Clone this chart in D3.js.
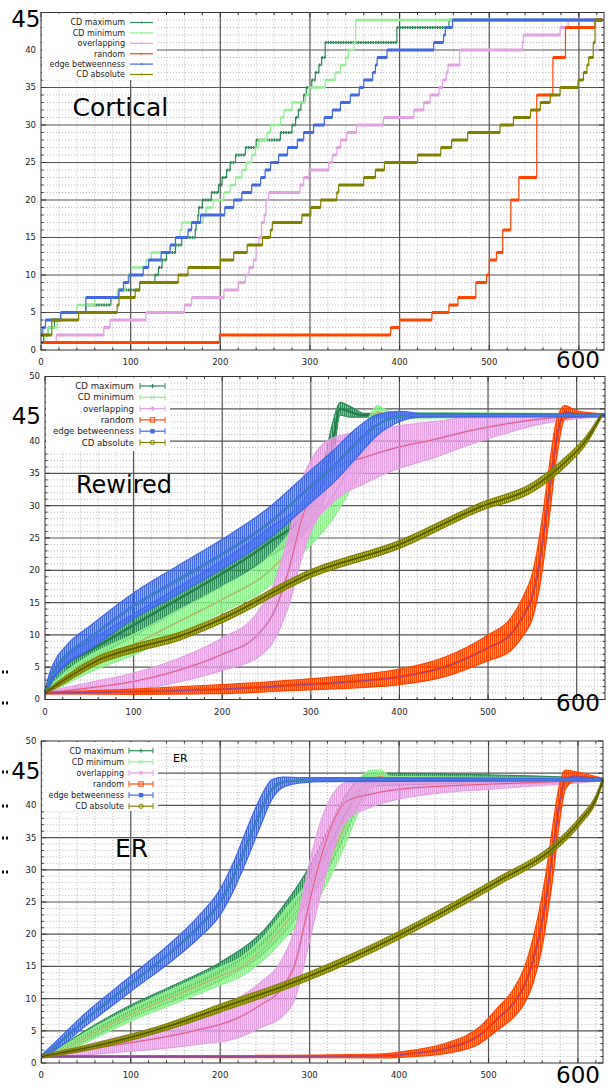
<!DOCTYPE html>
<html>
<head>
<meta charset="utf-8">
<script src="https://cdn.jsdelivr.net/npm/d3@7"></script>
<style>
body { margin: 0; background: #fff; }
svg text { font-family: "DejaVu Sans", sans-serif; }
</style>
</head>
<body>
<script>
// ---- data ----
var seriesNames = ["CD maximum", "CD minimum", "overlapping", "random", "edge betweenness", "CD absolute"];
var xTickLabels = [0, 100, 200, 300, 400, 500];
var yTickLabelsCortical = [0, 5, 10, 15, 20, 25, 30, 35, 40];
var yTickLabels = [0, 5, 10, 15, 20, 25, 30, 35, 40, 50];

// Cortical: step curves, [x, value from x onwards]
var corticalCDmax = [[0,1],[3,2],[8,3],[15,4],[22,5],[50,6],[78,7],[86,8],[110,9],[127,10],[131,11],[135,12],[140,13],[150,14],[157,15],[172,16],[173,17],[175,18],[176,19],[180,20],[190,21],[198,22],[202,23],[207,24],[211,25],[217,26],[228,27],[240,28],[267,29],[280,30],[284,31],[287,32],[290,33],[293,34],[296,35],[302,36],[306,37],[310,38],[313,39],[317,41],[397,43],[455,44],[626,44]];
var corticalCDmin = [[0,1],[4,2],[8,3],[18,4],[22,5],[40,6],[60,7],[85,8],[94,9],[97,10],[101,11],[117,12],[123,13],[144,14],[150,15],[155,16],[157,17],[181,18],[184,19],[192,20],[204,21],[211,22],[217,23],[224,24],[229,25],[235,26],[239,27],[243,28],[252,29],[256,30],[267,31],[271,32],[280,33],[295,34],[299,35],[317,36],[328,37],[334,38],[340,39],[343,40],[349,41],[351,44],[626,44]];
var corticalOverlap = [[0,1],[17,2],[70,3],[77,4],[117,5],[160,6],[168,7],[204,8],[220,9],[228,10],[232,11],[237,12],[240,14],[243,15],[246,17],[249,18],[251,20],[254,21],[289,22],[293,23],[299,24],[321,25],[325,26],[330,27],[334,28],[341,29],[352,30],[382,31],[416,32],[427,33],[434,34],[444,35],[448,36],[452,37],[454,38],[467,40],[537,41],[538,42],[579,43],[588,44],[626,44]];
var corticalRandom = [[0,1],[199,2],[390,3],[400,4],[436,5],[455,6],[465,7],[485,9],[497,10],[500,12],[508,13],[515,16],[524,20],[533,23],[553,34],[571,39],[585,43],[618,44],[626,44]];
var corticalEdgeBtw = [[0,2],[2,3],[5,4],[22,5],[50,7],[87,8],[92,9],[98,10],[114,11],[120,12],[134,13],[144,14],[150,15],[164,16],[168,17],[178,18],[205,19],[215,20],[224,21],[235,22],[245,23],[250,24],[256,25],[265,26],[275,27],[286,28],[293,29],[304,30],[316,31],[325,32],[334,33],[345,34],[355,35],[360,36],[370,37],[373,38],[375,39],[386,40],[438,41],[449,42],[451,43],[459,44],[626,44]];
var corticalCDabs = [[0,2],[12,4],[42,5],[85,6],[87,7],[105,8],[110,9],[153,10],[164,11],[200,12],[215,13],[230,14],[247,15],[256,16],[258,17],[291,18],[301,19],[312,20],[330,21],[332,22],[360,23],[373,24],[383,25],[420,26],[446,27],[458,28],[476,29],[512,30],[527,31],[546,32],[557,33],[568,34],[579,35],[599,36],[605,37],[609,38],[611,39],[616,41],[618,44],[626,44]];

// Rewired: [x, mean, error]
var rewiredCDmax = [[0,1,0.3],[5,2.5,0.8],[20,5,1.2],[50,7.5,1.5],[100,11.5,1.7],[150,15.5,1.8],[200,19.5,2],[250,24,2.2],[300,30,2.5],[315,34,3],[325,40,3],[333,45,1],[345,44.5,0.8],[360,44,0.3],[632,44,0.2]];
var rewiredCDmin = [[0,1,0.3],[25,3.5,1],[50,5.5,1.3],[100,8.5,1.6],[150,12,1.8],[200,15.5,2],[250,19.5,2.3],[288,25,2.8],[325,31.5,3.5],[345,36,3.5],[363,40,3],[375,44.5,1],[390,44,0.5],[632,44,0.2]];
var rewiredOverlap = [[0,1,0.2],[50,1.8,0.8],[100,2.8,1.3],[150,4.5,1.8],[200,7,2.5],[240,10,3.5],[260,14,4.5],[275,20,5.5],[290,28,6],[300,31.5,5.5],[325,35.5,5],[363,37.6,4],[400,39.1,3.3],[438,40.2,2.8],[476,41.5,2.2],[513,42.5,1.6],[551,43.3,0.9],[589,43.8,0.5],[632,44,0.2]];
var rewiredRandom = [[0,1,0.1],[100,1.2,0.4],[200,1.6,0.7],[280,2.2,0.8],[350,2.8,1],[400,3.5,1.2],[450,5,1.5],[500,8,2],[525,10,2.5],[540,13,3],[550,16,3.5],[559,22,4],[568,31,4],[577,40,3],[587,44.5,1],[600,44.2,0.5],[632,44,0.2]];
var rewiredEdgeBtw = [[0,1,0.3],[5,3,1],[10,4.5,1.2],[25,7,1.5],[50,9.5,1.8],[100,14.5,2],[150,18.5,2.2],[200,22.5,2.3],[250,27,2.4],[300,33,2.5],[325,36,2.5],[350,39.5,2.3],[375,42.5,1.6],[400,43.8,0.8],[425,44,0.3],[632,44,0.2]];
var rewiredCDabs = [[0,1,0.2],[25,3.3,0.5],[62,6.2,0.6],[100,7.9,0.6],[152,9.8,0.6],[200,12.5,0.6],[300,19.5,0.6],[400,24,0.6],[491,29.8,0.6],[551,32.9,0.7],[589,37,0.7],[610,40,0.6],[628,44,0.3]];

// ER: [x, mean, error]
var erCDmax = [[0,1,0.2],[20,2,0.5],[50,4.3,0.8],[100,8,1],[150,11,1.2],[200,14.2,1.4],[250,19,1.8],[275,23,2.2],[300,28,2.5],[320,33,3],[340,38.5,3],[355,42,2],[370,44,1],[628,44,0.2]];
var erCDmin = [[0,1,0.2],[20,1.8,0.5],[50,4,0.8],[100,7.5,1],[150,10.5,1.2],[200,13.5,1.4],[222,14.8,1.5],[250,18,1.8],[275,22,2.2],[300,26,2.5],[320,31,3],[340,37,3],[355,41.5,2.5],[370,44,1.5],[380,44.5,1],[390,44,0.5],[628,44,0.2]];
var erOverlap = [[0,1,0.2],[28,1.5,0.5],[70,2.5,1],[140,4.1,1.8],[180,5.3,2.3],[215,6.7,3],[245,9,3.5],[270,11.8,4.5],[285,16,5.5],[295,22,6],[305,28,6],[315,33,5.5],[325,37,4.5],[340,40.5,3],[370,41.8,2],[400,42.5,1.5],[450,43,1],[500,43.3,0.8],[600,43.8,0.3],[628,44,0.2]];
var erRandom = [[0,1,0.1],[200,1,0.15],[379,1.1,0.3],[416,1.5,0.5],[453,2.3,0.8],[490,4.3,1.3],[509,6.7,1.7],[528,9.3,2.2],[540,12,2.8],[550,16,3.5],[560,22,4],[567,28,4],[573,34,4],[579,40,3],[586,44,1.5],[595,44.5,0.8],[628,44,0.2]];
var erEdgeBtw = [[0,1,0.2],[10,2,0.5],[50,6.8,1],[100,12.3,1.2],[150,17.8,1.5],[175,21,1.7],[200,25,2],[215,29,2.2],[230,34,2.4],[245,39,2.2],[258,42.5,1.5],[270,43.6,0.8],[290,43.9,0.4],[320,44,0.3],[628,44,0.2]];
var erCDabs = [[0,1,0.2],[20,1.5,0.3],[140,5.6,0.5],[200,8.5,0.6],[289,12.9,0.6],[350,16.5,0.6],[401,19.9,0.6],[450,23.5,0.6],[513,28.4,0.6],[569,33,0.6],[603,37.7,0.6],[620,41,0.5],[628,44,0.3]];

// ---- styling ----
var colors = ["#2e8b57", "#90ee90", "#e2a2e2", "#ff4500", "#4169e1", "#808000"];
var meanColors = ["#1c6a3a", "#e0804a", "#e8405a", "#7048c8", "#3aa872", "#3a3a00"];
var markerTypes = ["plus", "cross", "star", "square", "fsquare", "circle"];

var panels = [
  {name: "cortical", series: [corticalCDmax, corticalCDmin, corticalOverlap, corticalRandom, corticalEdgeBtw, corticalCDabs],
   left: 41, right: 604, top: 12.5, bottom: 350, xMax: 628, yMax: 45, yLabels: yTickLabelsCortical,
   legend: {x0: 42, y0: 13.5, x1: 157, y1: 80, rowY: 22.5, rowH: 10.4, textX: 125, s0: 130, s1: 153}},
  {name: "rewired", series: [rewiredCDmax, rewiredCDmin, rewiredOverlap, rewiredRandom, rewiredEdgeBtw, rewiredCDabs],
   left: 45, right: 605, top: 376.5, bottom: 699.5, xMax: 632, yMax: 50, yLabels: yTickLabels,
   legend: {x0: 46, y0: 377.5, x1: 170, y1: 451, rowY: 386, rowH: 11.3, textX: 134, s0: 140, s1: 165}},
  {name: "er", series: [erCDmax, erCDmin, erOverlap, erRandom, erEdgeBtw, erCDabs],
   left: 41.3, right: 603, top: 741, bottom: 1063, xMax: 628, yMax: 50, yLabels: yTickLabels,
   legend: {x0: 42.3, y0: 742, x1: 158, y1: 811, rowY: 750.7, rowH: 11.1, textX: 124, s0: 129, s1: 153}}
];

// little dark specks along the left edge of the collage
var edgeSpecksY = [672, 703, 772, 806, 838, 872];

var svg = d3.select("body").append("svg")
  .attr("width", 608)
  .attr("height", 1088);

svg.append("rect").attr("width", 608).attr("height", 1088).attr("fill", "#fff");

// hatch patterns to imitate dense error bars
var defs = svg.append("defs");
colors.forEach(function(c, i){
  var p = defs.append("pattern")
    .attr("id", "hatch" + i)
    .attr("patternUnits", "userSpaceOnUse")
    .attr("width", 2).attr("height", 4);
  p.append("rect").attr("width", 2).attr("height", 4).attr("fill", c).attr("fill-opacity", 0.55);
  p.append("rect").attr("width", 1).attr("height", 4).attr("fill", c);
});

function drawMarker(g, type, cx, cy, color, s){
  if(type === "plus"){
    g.append("path").attr("d", "M" + (cx - s) + "," + cy + "H" + (cx + s) + "M" + cx + "," + (cy - s) + "V" + (cy + s))
      .attr("stroke", color).attr("stroke-width", 1);
  } else if(type === "cross"){
    g.append("path").attr("d", "M" + (cx - s) + "," + (cy - s) + "L" + (cx + s) + "," + (cy + s) + "M" + (cx - s) + "," + (cy + s) + "L" + (cx + s) + "," + (cy - s))
      .attr("stroke", color).attr("stroke-width", 1);
  } else if(type === "star"){
    drawMarker(g, "plus", cx, cy, color, s);
    drawMarker(g, "cross", cx, cy, color, s * 0.75);
  } else if(type === "square"){
    g.append("rect").attr("x", cx - s).attr("y", cy - s).attr("width", 2 * s).attr("height", 2 * s)
      .attr("fill", "none").attr("stroke", color).attr("stroke-width", 1);
  } else if(type === "fsquare"){
    g.append("rect").attr("x", cx - s).attr("y", cy - s).attr("width", 2 * s).attr("height", 2 * s)
      .attr("fill", color);
  } else {
    g.append("circle").attr("cx", cx).attr("cy", cy).attr("r", s)
      .attr("fill", "none").attr("stroke", color).attr("stroke-width", 1);
  }
}

panels.forEach(function(p, pi){
  var g = svg.append("g").attr("class", "panel " + p.name);

  var x = d3.scaleLinear().domain([0, p.xMax]).range([p.left, p.right]);
  var y = d3.scaleLinear().domain([0, p.yMax]).range([p.bottom, p.top]);

  // minor grid (dotted)
  var grid = g.append("g");
  grid.selectAll(".vminor")
    .data(d3.range(20, p.xMax, 20).filter(function(v){ return v % 100 !== 0; }))
    .enter().append("line")
    .attr("x1", function(d){ return x(d); }).attr("x2", function(d){ return x(d); })
    .attr("y1", p.top).attr("y2", p.bottom)
    .attr("stroke", "#aaa").attr("stroke-width", 0.8).attr("stroke-dasharray", "1,2");
  grid.selectAll(".hminor")
    .data(d3.range(1, p.yMax, 1).filter(function(v){ return v % 5 !== 0; }))
    .enter().append("line")
    .attr("x1", p.left).attr("x2", p.right)
    .attr("y1", function(d){ return y(d); }).attr("y2", function(d){ return y(d); })
    .attr("stroke", "#aaa").attr("stroke-width", 0.8).attr("stroke-dasharray", "1,2");

  // major grid
  grid.selectAll(".vmajor")
    .data(d3.range(100, p.xMax, 100))
    .enter().append("line")
    .attr("x1", function(d){ return x(d); }).attr("x2", function(d){ return x(d); })
    .attr("y1", p.top).attr("y2", p.bottom)
    .attr("stroke", "#555").attr("stroke-width", 1.2);
  grid.selectAll(".hmajor")
    .data(d3.range(5, p.yMax, 5))
    .enter().append("line")
    .attr("x1", p.left).attr("x2", p.right)
    .attr("y1", function(d){ return y(d); }).attr("y2", function(d){ return y(d); })
    .attr("stroke", "#555").attr("stroke-width", 1.2);

  // data
  var dataG = g.append("g");
  if(pi === 0){
    var step = d3.line()
      .x(function(d){ return x(d[0]); })
      .y(function(d){ return y(d[1]); })
      .curve(d3.curveStepAfter);
    p.series.forEach(function(s, i){
      var sg = dataG.append("g");
      sg.append("path").datum(s)
        .attr("d", step)
        .attr("fill", "none")
        .attr("stroke", colors[i])
        .attr("stroke-width", 1.2);
      sg.selectAll("line")
        .data(d3.pairs(s))
        .enter().append("line")
        .attr("x1", function(d){ return x(d[0][0]); })
        .attr("x2", function(d){ return x(d[1][0]); })
        .attr("y1", function(d){ return y(d[0][1]); })
        .attr("y2", function(d){ return y(d[0][1]); })
        .attr("stroke", colors[i])
        .attr("stroke-width", i === 1 ? 2.4 : 3)
        .attr("stroke-dasharray", i === 0 ? "1.5,1" : null);
    });
  } else {
    var band = d3.area()
      .x(function(d){ return x(d[0]); })
      .y0(function(d){ return y(d[1] - d[2]); })
      .y1(function(d){ return y(d[1] + d[2]); })
      .curve(d3.curveMonotoneX);
    var lo = d3.line()
      .x(function(d){ return x(d[0]); })
      .y(function(d){ return y(d[1] - d[2]); })
      .curve(d3.curveMonotoneX);
    var hi = d3.line()
      .x(function(d){ return x(d[0]); })
      .y(function(d){ return y(d[1] + d[2]); })
      .curve(d3.curveMonotoneX);
    var mean = d3.line()
      .x(function(d){ return x(d[0]); })
      .y(function(d){ return y(d[1]); })
      .curve(d3.curveMonotoneX);
    p.series.forEach(function(s, i){
      var sg = dataG.append("g");
      sg.append("path").datum(s).attr("d", band)
        .attr("fill", "url(#hatch" + i + ")");
      sg.append("path").datum(s).attr("d", lo)
        .attr("fill", "none").attr("stroke", colors[i]).attr("stroke-width", 1.2);
      sg.append("path").datum(s).attr("d", hi)
        .attr("fill", "none").attr("stroke", colors[i]).attr("stroke-width", 1.2);
      sg.append("path").datum(s).attr("d", mean)
        .attr("fill", "none").attr("stroke", colors[i]).attr("stroke-width", 2.6);
      sg.append("path").datum(s).attr("d", mean)
        .attr("fill", "none").attr("stroke", meanColors[i]).attr("stroke-width", 0.8);
    });
  }

  // border
  g.append("rect")
    .attr("x", p.left).attr("y", p.top)
    .attr("width", p.right - p.left).attr("height", p.bottom - p.top)
    .attr("fill", "none").attr("stroke", "#333").attr("stroke-width", 1);

  // ticks on all four sides
  var ticks = g.append("g").attr("stroke", "#333").attr("stroke-width", 1);
  d3.range(0, p.yMax + 1, 1).forEach(function(v){
    var len = v % 5 === 0 ? 5 : 2.5;
    ticks.append("line").attr("x1", p.left).attr("x2", p.left + len).attr("y1", y(v)).attr("y2", y(v));
    ticks.append("line").attr("x1", p.right).attr("x2", p.right - len).attr("y1", y(v)).attr("y2", y(v));
  });
  d3.range(0, p.xMax, 20).forEach(function(v){
    var len = v % 100 === 0 ? 5 : 2.5;
    ticks.append("line").attr("x1", x(v)).attr("x2", x(v)).attr("y1", p.bottom).attr("y2", p.bottom - len);
    ticks.append("line").attr("x1", x(v)).attr("x2", x(v)).attr("y1", p.top).attr("y2", p.top + len);
  });

  // tick labels
  g.selectAll(".ylab")
    .data(p.yLabels)
    .enter().append("text")
    .attr("x", p.left - 5)
    .attr("y", function(d){ return y(d); })
    .attr("dy", "0.35em")
    .attr("text-anchor", "end")
    .attr("font-size", 8.5)
    .attr("fill", "#222")
    .text(function(d){ return d; });
  g.selectAll(".xlab")
    .data(xTickLabels)
    .enter().append("text")
    .attr("x", function(d){ return x(d); })
    .attr("y", p.bottom + 15)
    .attr("text-anchor", "middle")
    .attr("font-size", 8.5)
    .attr("fill", "#222")
    .text(function(d){ return d; });

  // legend
  var L = p.legend;
  var lg = g.append("g");
  lg.append("rect")
    .attr("x", L.x0).attr("y", L.y0)
    .attr("width", L.x1 - L.x0).attr("height", L.y1 - L.y0)
    .attr("fill", "#fff");
  seriesNames.forEach(function(name, i){
    var ry = L.rowY + i * L.rowH;
    lg.append("text")
      .attr("x", L.textX).attr("y", ry)
      .attr("dy", "0.35em")
      .attr("text-anchor", "end")
      .attr("font-size", pi === 1 ? 8.6 : 8)
      .attr("fill", "#222")
      .text(name);
    lg.append("line")
      .attr("x1", L.s0).attr("x2", L.s1)
      .attr("y1", ry).attr("y2", ry)
      .attr("stroke", colors[i]).attr("stroke-width", 1.2);
    if(pi === 0){
      lg.append("circle").attr("cx", (L.s0 + L.s1) / 2).attr("cy", ry).attr("r", 1)
        .attr("fill", colors[i]);
    } else {
      lg.append("line").attr("x1", L.s0).attr("x2", L.s0).attr("y1", ry - 3).attr("y2", ry + 3)
        .attr("stroke", colors[i]).attr("stroke-width", 1);
      lg.append("line").attr("x1", L.s1).attr("x2", L.s1).attr("y1", ry - 3).attr("y2", ry + 3)
        .attr("stroke", colors[i]).attr("stroke-width", 1);
      drawMarker(lg, markerTypes[i], (L.s0 + L.s1) / 2, ry, colors[i], 2.2);
    }
  });
});

// big overlay labels pasted on top of the plots
var overlay = svg.append("g").attr("fill", "#000");
var bigLabels = [
  {t: "45", x: 40.5, y: 26.7, a: "end", s: 23},
  {t: "600", x: 600, y: 368, a: "end", s: 23},
  {t: "Cortical", x: 72.5, y: 116, a: "start", s: 25},
  {t: "45", x: 41, y: 424, a: "end", s: 23},
  {t: "600", x: 600, y: 711, a: "end", s: 23},
  {t: "Rewired", x: 76, y: 493, a: "start", s: 24},
  {t: "45", x: 40.5, y: 779, a: "end", s: 23},
  {t: "600", x: 600, y: 1083, a: "end", s: 23},
  {t: "ER", x: 115, y: 857, a: "start", s: 25},
  {t: "ER", x: 173, y: 762, a: "start", s: 11}
];
overlay.selectAll("text")
  .data(bigLabels)
  .enter().append("text")
  .attr("x", function(d){ return d.x; })
  .attr("y", function(d){ return d.y; })
  .attr("text-anchor", function(d){ return d.a; })
  .attr("font-size", function(d){ return d.s; })
  .text(function(d){ return d.t; });

overlay.selectAll(".speck")
  .data(edgeSpecksY)
  .enter().append("g")
  .each(function(d){
    d3.select(this).append("rect").attr("x", 2).attr("y", d - 1.5).attr("width", 2).attr("height", 3).attr("fill", "#111");
    d3.select(this).append("rect").attr("x", 6).attr("y", d - 1.5).attr("width", 2).attr("height", 3).attr("fill", "#111");
  });
</script>
</body>
</html>
